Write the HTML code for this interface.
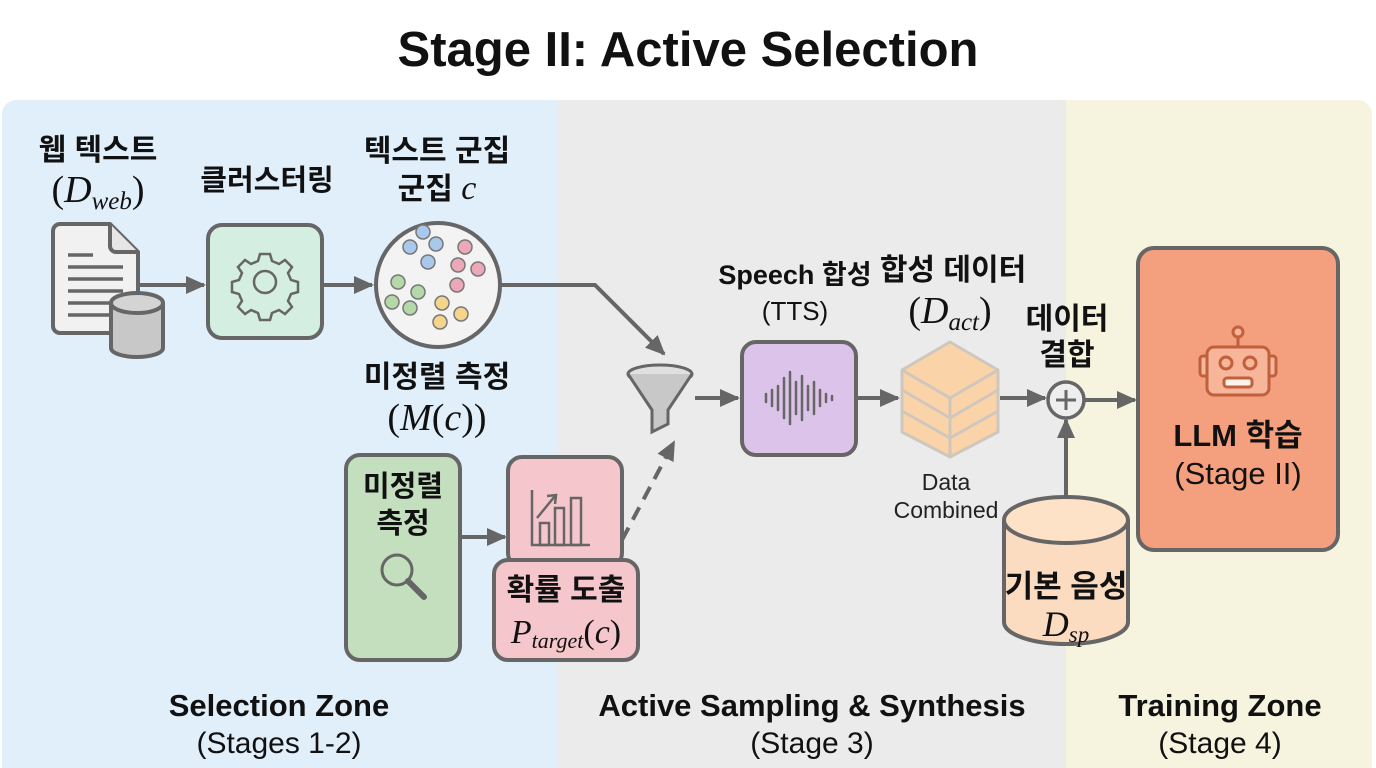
<!DOCTYPE html>
<html><head><meta charset="utf-8"><style>
html,body{margin:0;padding:0;background:#fff;}
svg{display:block;}
text{font-family:"Liberation Sans","Noto Sans CJK KR",sans-serif;}
.k{font-weight:bold;fill:#111;}
.m{font-family:"Liberation Serif","Noto Serif CJK SC",serif;font-style:italic;fill:#111;}
.mp{font-family:"Liberation Serif",serif;fill:#111;}
</style></head><body>
<svg width="1376" height="768" viewBox="0 0 1376 768" xmlns="http://www.w3.org/2000/svg">
<defs>
<marker id="ar2" markerWidth="20" markerHeight="20" refX="18" refY="10" orient="auto" markerUnits="userSpaceOnUse" viewBox="0 0 20 20">
<path d="M0,1 L20,10 L0,19 z" fill="#666"/></marker>
<clipPath id="pc"><rect x="2" y="100" width="1370" height="680" rx="14"/></clipPath>
</defs>
<text x="688" y="66" text-anchor="middle" class="k" font-size="49">Stage II: Active Selection</text>
<g clip-path="url(#pc)">
<rect x="0" y="100" width="558" height="680" fill="#e1effb"/>
<rect x="558" y="100" width="508" height="680" fill="#ebebeb"/>
<rect x="1066" y="100" width="310" height="680" fill="#f6f3de"/>
</g>
<g stroke="#666" stroke-width="4" fill="none">
<line x1="138" y1="285" x2="204" y2="285" marker-end="url(#ar2)"/>
<line x1="322" y1="285" x2="372" y2="285" marker-end="url(#ar2)"/>
<polyline points="500,285 595,285 664,354" marker-end="url(#ar2)"/>
<line x1="460" y1="537" x2="505" y2="537" marker-end="url(#ar2)"/>
<line x1="622" y1="540" x2="674" y2="442" stroke-dasharray="14,9" marker-end="url(#ar2)"/>
<line x1="695" y1="398" x2="738" y2="398" marker-end="url(#ar2)"/>
<line x1="856" y1="398" x2="898" y2="398" marker-end="url(#ar2)"/>
<line x1="1000" y1="398" x2="1045" y2="398" marker-end="url(#ar2)"/>
<line x1="1085" y1="400" x2="1135" y2="400" marker-end="url(#ar2)"/>
<line x1="1066" y1="495" x2="1066" y2="420" marker-end="url(#ar2)"/>
</g>
<path d="M60,224 H110 L138,252 V326 a7,7 0 0 1 -7,7 H60 a7,7 0 0 1 -7,-7 V231 a7,7 0 0 1 7,-7z" fill="#f1f1f1" stroke="#666" stroke-width="4"/>
<path d="M110,224 V246 a6,6 0 0 0 6,6 H138" fill="#e6e6e6" stroke="#666" stroke-width="4"/>
<g stroke="#666" stroke-width="3.5"><line x1="68" y1="255" x2="93" y2="255"/><line x1="68" y1="267" x2="123" y2="267"/><line x1="68" y1="279" x2="123" y2="279"/><line x1="68" y1="291" x2="123" y2="291"/><line x1="68" y1="303" x2="123" y2="303"/><line x1="68" y1="315" x2="110" y2="315"/></g>
<path d="M111,303 V348 a26,9 0 0 0 52,0 V303" fill="#c8c8c8" stroke="#666" stroke-width="4"/>
<ellipse cx="137" cy="303" rx="26" ry="10" fill="#d4d4d4" stroke="#666" stroke-width="4"/>
<rect x="208" y="225" width="114" height="113" rx="14" fill="#d4eee2" stroke="#666" stroke-width="4"/>
<g transform="translate(265,282)" fill="none" stroke="#666" stroke-width="2.5">
<path d="M-5,-28 h10 l2,7 l7,3 l6,-4 l7,7 l-4,6 l3,7 l7,2 v10 l-7,2 l-3,7 l4,6 l-7,7 l-6,-4 l-7,3 l-2,7 h-10 l-2,-7 l-7,-3 l-6,4 l-7,-7 l4,-6 l-3,-7 l-7,-2 v-10 l7,-2 l3,-7 l-4,-6 l7,-7 l6,4 l7,-3z"/>
<circle r="11"/></g>
<circle cx="438" cy="285" r="62" fill="#f3f3f3" stroke="#666" stroke-width="4"/>
<g stroke="#777" stroke-width="1.5">
<circle cx="423" cy="232" r="7" fill="#a9c8ec"/><circle cx="410" cy="247" r="7" fill="#a9c8ec"/><circle cx="436" cy="244" r="7" fill="#a9c8ec"/><circle cx="428" cy="262" r="7" fill="#a9c8ec"/>
<circle cx="465" cy="247" r="7" fill="#eba8b8"/><circle cx="458" cy="265" r="7" fill="#eba8b8"/><circle cx="478" cy="269" r="7" fill="#eba8b8"/><circle cx="457" cy="285" r="7" fill="#eba8b8"/>
<circle cx="398" cy="282" r="7" fill="#b5d8a8"/><circle cx="418" cy="292" r="7" fill="#b5d8a8"/><circle cx="392" cy="302" r="7" fill="#b5d8a8"/><circle cx="410" cy="308" r="7" fill="#b5d8a8"/>
<circle cx="442" cy="303" r="7" fill="#f5d58a"/><circle cx="461" cy="314" r="7" fill="#f5d58a"/><circle cx="440" cy="322" r="7" fill="#f5d58a"/>
</g>
<ellipse cx="660" cy="374" rx="32" ry="9" fill="#e0e0e0" stroke="#666" stroke-width="3"/>
<path d="M628,374 L652,410 V432 L668,424 V410 L692,374" fill="#c8c8c8" stroke="#666" stroke-width="3"/>
<rect x="346" y="455" width="114" height="205" rx="14" fill="#c4dfbe" stroke="#666" stroke-width="4"/>
<text x="403" y="496" text-anchor="middle" class="k" font-size="29">미정렬</text>
<text x="403" y="533" text-anchor="middle" class="k" font-size="29">측정</text>
<circle cx="397" cy="570" r="15" fill="none" stroke="#666" stroke-width="3"/>
<line x1="408" y1="581" x2="424" y2="597" stroke="#666" stroke-width="6" stroke-linecap="round"/>
<rect x="508" y="457" width="114" height="110" rx="14" fill="#f5c7cc" stroke="#666" stroke-width="4"/>
<g stroke="#666" stroke-width="2.5" fill="none"><polyline points="532,490 532,545 590,545"/><rect x="540" y="523" width="9" height="22"/><rect x="555" y="508" width="9" height="37"/><rect x="571" y="498" width="10" height="47"/><line x1="537" y1="518" x2="555" y2="496"/><polyline points="547,496 556,495 555,504"/></g>
<rect x="494" y="560" width="144" height="100" rx="14" fill="#f5c7cc" stroke="#666" stroke-width="4"/>
<text x="566" y="600" text-anchor="middle" class="k" font-size="30">확률 도출</text>
<text x="566" y="643" text-anchor="middle" font-size="34"><tspan class="m">P</tspan><tspan class="m" font-size="22" dy="5">target</tspan><tspan class="mp" dy="-5">(</tspan><tspan class="m">c</tspan><tspan class="mp">)</tspan></text>
<rect x="742" y="342" width="114" height="113" rx="14" fill="#dcc3ea" stroke="#666" stroke-width="4"/>
<g stroke="#666" stroke-width="2.5" stroke-linecap="round">
<line x1="766" y1="394" x2="766" y2="402"/><line x1="772" y1="390" x2="772" y2="406"/><line x1="778" y1="386" x2="778" y2="410"/><line x1="784" y1="378" x2="784" y2="418"/><line x1="790" y1="372" x2="790" y2="424"/><line x1="796" y1="382" x2="796" y2="414"/><line x1="802" y1="376" x2="802" y2="420"/><line x1="808" y1="386" x2="808" y2="410"/><line x1="814" y1="382" x2="814" y2="414"/><line x1="820" y1="390" x2="820" y2="406"/><line x1="826" y1="394" x2="826" y2="402"/><line x1="832" y1="396" x2="832" y2="400"/></g>
<g stroke="#cfc7bd" stroke-width="3" fill="#fbd3a8" stroke-linejoin="round">
<path d="M950,342 L998,370 V432 L950,457 L902,432 V370z"/>
<path d="M902,370 L950,398 L998,370 M950,398 V457 M902,390 L950,418 L998,390 M902,411 L950,438 L998,411" fill="none"/>
</g>
<circle cx="1066" cy="400" r="18" fill="#eee" stroke="#666" stroke-width="3.5"/>
<line x1="1056" y1="400" x2="1076" y2="400" stroke="#666" stroke-width="3"/><line x1="1066" y1="390" x2="1066" y2="410" stroke="#666" stroke-width="3"/>
<path d="M1004,520 V622 a62,22 0 0 0 124,0 V520" fill="#fbdcc0" stroke="#666" stroke-width="4"/>
<ellipse cx="1066" cy="520" rx="62" ry="23" fill="#fde2c8" stroke="#666" stroke-width="4"/>
<text x="1066" y="597" text-anchor="middle" class="k" font-size="31">기본 음성</text>
<text x="1066" y="636" text-anchor="middle" font-size="36"><tspan class="m">D</tspan><tspan class="m" font-size="23" dy="6">sp</tspan></text>
<rect x="1138" y="248" width="200" height="302" rx="16" fill="#f4a07e" stroke="#666" stroke-width="4"/>
<g stroke="#c0603c" stroke-width="3" fill="#f7b59a">
<line x1="1238" y1="338" x2="1238" y2="347"/><circle cx="1238" cy="332" r="5"/>
<rect x="1200" y="356" width="8" height="20" rx="3"/><rect x="1268" y="356" width="8" height="20" rx="3"/>
<rect x="1207" y="347" width="62" height="48" rx="7"/>
<circle cx="1226" cy="363" r="6" fill="none"/><circle cx="1250" cy="363" r="6" fill="none"/>
<rect x="1224" y="378" width="28" height="9" rx="3" fill="#fff2ea"/></g>
<text x="1238" y="446" text-anchor="middle" class="k" font-size="31">LLM 학습</text>
<text x="1238" y="484" text-anchor="middle" font-size="31" fill="#111">(Stage II)</text>
<text x="98" y="160" text-anchor="middle" class="k" font-size="30">웹 텍스트</text>
<text x="98" y="202" text-anchor="middle" font-size="38"><tspan class="mp">(</tspan><tspan class="m">D</tspan><tspan class="m" font-size="25" dy="7">web</tspan><tspan class="mp" dy="-7">)</tspan></text>
<text x="267" y="190" text-anchor="middle" class="k" font-size="29">클러스터링</text>
<text x="437" y="161" text-anchor="middle" class="k" font-size="30">텍스트 군집</text>
<text x="437" y="199" text-anchor="middle" font-size="30"><tspan class="k">군집 </tspan><tspan class="m" font-size="34">c</tspan></text>
<text x="437" y="387" text-anchor="middle" class="k" font-size="30">미정렬 측정</text>
<text x="437" y="430" text-anchor="middle" font-size="38"><tspan class="mp">(</tspan><tspan class="m">M</tspan><tspan class="mp">(</tspan><tspan class="m">c</tspan><tspan class="mp">))</tspan></text>
<text x="795" y="284" text-anchor="middle" class="k" font-size="27">Speech 합성</text>
<text x="795" y="320" text-anchor="middle" font-size="26" fill="#111">(TTS)</text>
<text x="953" y="280" text-anchor="middle" class="k" font-size="30">합성 데이터</text>
<text x="950" y="323" text-anchor="middle" font-size="38"><tspan class="mp">(</tspan><tspan class="m">D</tspan><tspan class="m" font-size="25" dy="7">act</tspan><tspan class="mp" dy="-7">)</tspan></text>
<text x="1067" y="329" text-anchor="middle" class="k" font-size="30">데이터</text>
<text x="1067" y="365" text-anchor="middle" class="k" font-size="30">결합</text>
<text x="946" y="490" text-anchor="middle" font-size="23" fill="#222">Data</text>
<text x="946" y="518" text-anchor="middle" font-size="23" fill="#222">Combined</text>
<text x="279" y="716" text-anchor="middle" class="k" font-size="31">Selection Zone</text>
<text x="279" y="753" text-anchor="middle" font-size="30" fill="#111">(Stages 1-2)</text>
<text x="812" y="716" text-anchor="middle" class="k" font-size="31">Active Sampling &amp; Synthesis</text>
<text x="812" y="753" text-anchor="middle" font-size="30" fill="#111">(Stage 3)</text>
<text x="1220" y="716" text-anchor="middle" class="k" font-size="31">Training Zone</text>
<text x="1220" y="753" text-anchor="middle" font-size="30" fill="#111">(Stage 4)</text>
</svg>
</body></html>
